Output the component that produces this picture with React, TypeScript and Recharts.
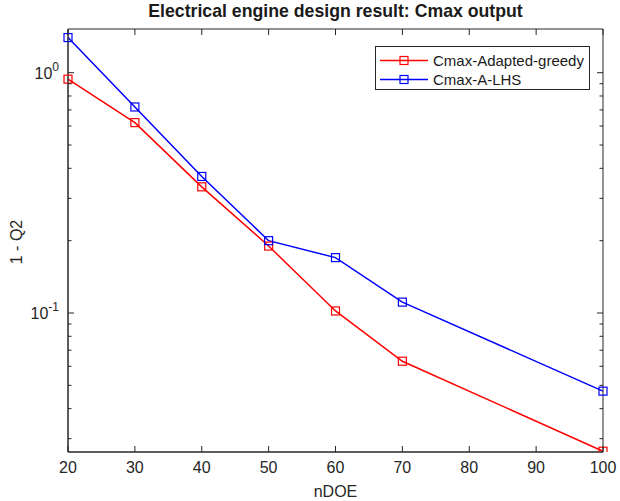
import React from "react";
import { LineChart, Line, XAxis, YAxis, ReferenceArea } from "recharts";

// nDOE sample sizes
const nDOE = [20, 30, 40, 50, 60, 70, 100];

// 1 - Q2 values
const adaptedGreedy = [0.94, 0.62, 0.335, 0.19, 0.102, 0.063, 0.0266];
const aLHS = [1.4, 0.72, 0.37, 0.2, 0.17, 0.111, 0.0473];

const xTicks = [20, 30, 40, 50, 60, 70, 80, 90, 100];
const yMajor = [0.1, 1];
const yMinor = [0.03, 0.04, 0.05, 0.06, 0.07, 0.08, 0.09, 0.2, 0.3, 0.4, 0.5, 0.6, 0.7, 0.8, 0.9];
const xDomain = [20, 100];
const yDomain = [0.0264, 1.52];

const series = [
    { key: "greedy", name: "Cmax-Adapted-greedy", color: "#ff0000" },
    { key: "lhs", name: "Cmax-A-LHS", color: "#0000ff" },
];

const data = nDOE.map((n, i) => ({
    n,
    greedy: adaptedGreedy[i],
    lhs: aLHS[i],
}));

const AXIS = "#262626";
const FONT = "'Liberation Sans', Arial, sans-serif";

// plot box size, used to mirror the ticks on the top and right sides
const PLOT_W = 535;
const PLOT_H = 423;

const SquareDot = (props: any) => {
    const { cx, cy, stroke } = props;
    if (cx == null || cy == null) return null;
    return (
        <rect
            x={cx - 4}
            y={cy - 4}
            width={8}
            height={8}
            fill="none"
            stroke={stroke}
            strokeWidth={1.2}
        />
    );
};

const LeftTick = (props: any) => {
    const { x, y, payload } = props;
    const major = yMajor.includes(payload.value);
    const len = major ? 6 : 3.5;
    const exp = Math.round(Math.log10(payload.value));
    return (
        <g>
            <line x1={x} y1={y} x2={x + len} y2={y} stroke={AXIS} strokeWidth={1} />
            <line x1={x + PLOT_W} y1={y} x2={x + PLOT_W - len} y2={y} stroke={AXIS} strokeWidth={1} />
            {major && (
                <text x={x - 9} y={y + 6} textAnchor="end" fontSize={16} fill={AXIS} fontFamily={FONT}>
                    10
                    <tspan dy={-8} fontSize={12}>
                        {exp}
                    </tspan>
                </text>
            )}
        </g>
    );
};

const BottomTick = (props: any) => {
    const { x, y, payload } = props;
    return (
        <g>
            <line x1={x} y1={y} x2={x} y2={y - 6} stroke={AXIS} strokeWidth={1} />
            <line x1={x} y1={y - PLOT_H} x2={x} y2={y - PLOT_H + 6} stroke={AXIS} strokeWidth={1} />
            <text x={x} y={y + 21} textAnchor="middle" fontSize={16} fill={AXIS} fontFamily={FONT}>
                {payload.value}
            </text>
        </g>
    );
};

export default function App() {
    return (
        <div
            style={{
                position: "absolute",
                left: 0,
                top: 0,
                width: 620,
                height: 501,
                background: "#fff",
                fontFamily: FONT,
            }}
        >
            <div
                style={{
                    position: "absolute",
                    left: 0,
                    width: 671,
                    top: 1,
                    textAlign: "center",
                    fontSize: 17.7,
                    fontWeight: "bold",
                    color: "#1a1a1a",
                }}
            >
                Electrical engine design result: Cmax output
            </div>

            <LineChart
                width={620}
                height={501}
                data={data}
                margin={{ top: 29, right: 17, bottom: 0, left: 0 }}
            >
                <ReferenceArea
                    x1={xDomain[0]}
                    x2={xDomain[1]}
                    y1={yDomain[0]}
                    y2={yDomain[1]}
                    fill="none"
                    stroke={AXIS}
                    strokeWidth={1}
                    ifOverflow="visible"
                />
                <XAxis
                    dataKey="n"
                    type="number"
                    domain={xDomain}
                    ticks={xTicks}
                    height={49}
                    tickSize={0}
                    tickMargin={0}
                    tickLine={false}
                    tick={<BottomTick />}
                    axisLine={{ stroke: AXIS }}
                    label={{
                        value: "nDOE",
                        position: "insideBottom",
                        offset: 4,
                        fontSize: 16,
                        fill: AXIS,
                        fontFamily: FONT,
                    }}
                />
                <YAxis
                    scale="log"
                    type="number"
                    domain={yDomain}
                    allowDataOverflow
                    ticks={[...yMinor, ...yMajor]}
                    interval={0}
                    width={68}
                    tickSize={0}
                    tickMargin={0}
                    tickLine={false}
                    tick={<LeftTick />}
                    axisLine={{ stroke: AXIS }}
                    label={{
                        content: () => (
                            <text
                                x={22}
                                y={242}
                                transform="rotate(-90 22 242)"
                                textAnchor="middle"
                                fontSize={16}
                                fill={AXIS}
                                fontFamily={FONT}
                            >
                                1 - Q2
                            </text>
                        ),
                    }}
                />
                {series.map((s) => (
                    <Line
                        key={s.key}
                        dataKey={s.key}
                        name={s.name}
                        stroke={s.color}
                        strokeWidth={1.5}
                        dot={<SquareDot />}
                        activeDot={false}
                        isAnimationActive={false}
                    />
                ))}
            </LineChart>

            <div
                style={{
                    position: "absolute",
                    left: 375,
                    top: 46,
                    width: 215,
                    height: 44,
                    border: `1px solid ${AXIS}`,
                    background: "#fff",
                    paddingTop: 4,
                    boxSizing: "border-box",
                }}
            >
                {series.map((s) => (
                    <div
                        key={s.key}
                        style={{ display: "flex", alignItems: "center", height: 19 }}
                    >
                        <svg width={57} height={19} style={{ flex: "none" }}>
                            <line x1={4} y1={9.5} x2={52} y2={9.5} stroke={s.color} strokeWidth={1.5} />
                            <rect x={24} y={5.5} width={8} height={8} fill="none" stroke={s.color} strokeWidth={1.2} />
                        </svg>
                        <span style={{ fontSize: 15, color: "#1a1a1a", whiteSpace: "nowrap" }}>{s.name}</span>
                    </div>
                ))}
            </div>
        </div>
    );
}
